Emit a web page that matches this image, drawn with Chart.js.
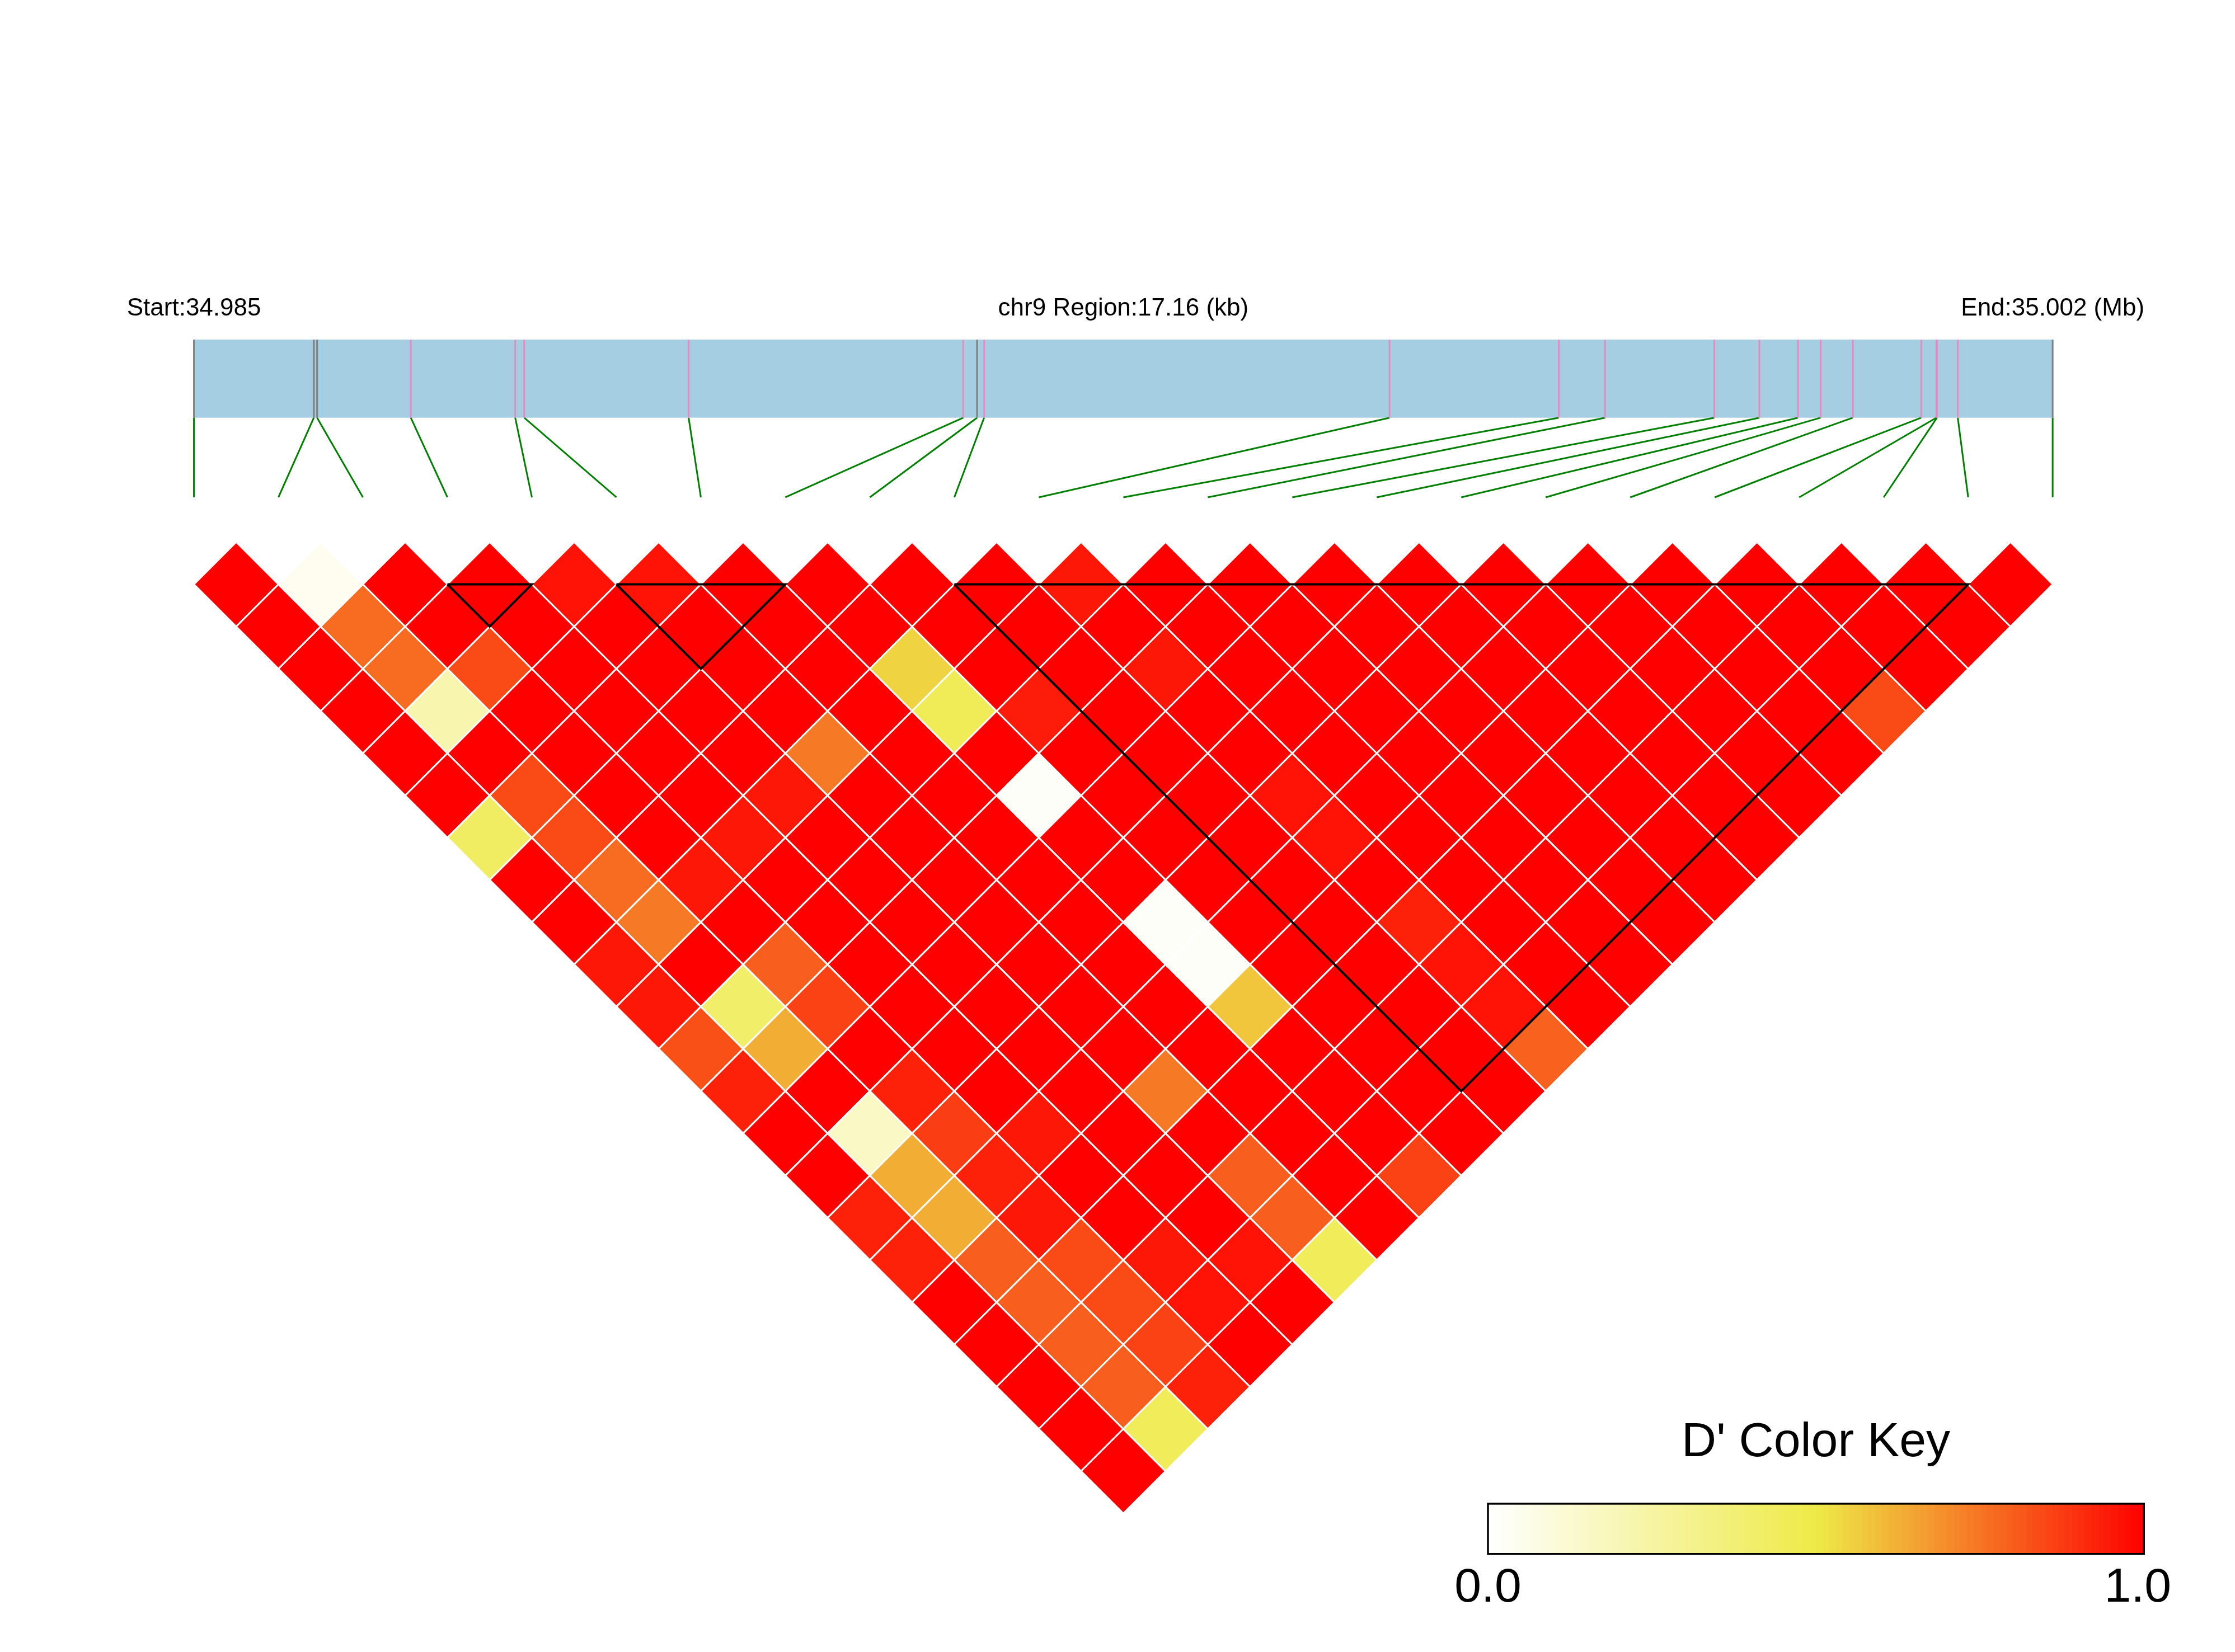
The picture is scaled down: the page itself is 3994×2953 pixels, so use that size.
<!DOCTYPE html>
<html>
<head>
<meta charset="utf-8">
<title>LD block chr9</title>
<script src="https://cdn.jsdelivr.net/npm/chart.js@4.4.1/dist/chart.umd.min.js"></script>
<style>
  html, body { margin: 0; padding: 0; background: #fff; }
  canvas { display: block; }
</style>
</head>
<body>
<canvas id="ld" width="3994" height="2953" style="width:3994px;height:2953px"></canvas>
<script>
// region shown on the gene bar
const chrom = 'chr9'
const startMb = '34.985'
const endMb = '35.002'
const regionKb = 17.16

// SNP positions inside the region (kb from start)
const snpKb = [0, 1.107, 1.137, 2.002, 2.966, 3.049, 4.567, 7.103, 7.230, 7.295, 11.038, 12.600,
  13.028, 14.036, 14.452, 14.808, 15.018, 15.315, 15.947, 16.086, 16.092, 16.284, 17.16]
// SNPs whose mark on the bar is grey instead of pink
const greySnps = [0, 1, 2, 8, 22]

// haplotype blocks (first SNP, last SNP)
const blocks = [[3, 4], [5, 7], [9, 21]]

// D' for SNP i against SNP j = i+1 .. 22
const dprimeRows = [
  [1, 1, 1, 1, 1, 1, 0.43, 1, 1, 0.95, 0.95, 0.83, 0.93, 1, 1, 0.93, 0.93, 1, 1, 1, 1, 1],
  [0.04, 0.77, 0.77, 0.22, 1, 0.84, 0.84, 0.77, 0.74, 1, 0.41, 0.63, 1, 0.16, 0.63, 0.63, 0.8, 0.8, 0.8, 0.8, 0.45],
  [1, 1, 0.84, 1, 1, 1, 1, 0.95, 1, 0.8, 0.86, 1, 0.93, 0.87, 0.93, 0.95, 0.84, 0.84, 0.86, 0.93],
  [1, 1, 1, 1, 1, 1, 0.95, 1, 1, 1, 1, 1, 1, 0.95, 1, 1, 0.95, 0.96, 1],
  [0.96, 1, 1, 1, 1, 0.95, 1, 1, 1, 1, 1, 1, 1, 1, 1, 1, 0.96, 1],
  [0.96, 1, 1, 1, 0.74, 1, 1, 1, 1, 1, 1, 1, 0.74, 1, 0.8, 0.8, 0.45],
  [1, 1, 1, 1, 1, 1, 1, 1, 1, 1, 1, 1, 1, 1, 1, 1],
  [1, 1, 0.55, 0.46, 1, 0.02, 1, 1, 0.02, 0.02, 0.58, 1, 1, 1, 0.86],
  [1, 1, 1, 0.94, 1, 1, 1, 1, 1, 1, 1, 1, 1, 1],
  [1, 1, 1, 1, 1, 1, 1, 1, 1, 1, 1, 1, 1],
  [0.95, 1, 0.95, 1, 1, 0.96, 0.96, 1, 0.93, 0.96, 0.96, 0.79],
  [1, 1, 1, 1, 1, 1, 1, 1, 1, 1, 1],
  [1, 1, 1, 1, 1, 1, 1, 1, 1, 1],
  [1, 1, 1, 1, 1, 1, 1, 1, 1],
  [1, 1, 1, 1, 1, 1, 1, 1],
  [1, 1, 1, 1, 1, 1, 1],
  [1, 1, 1, 1, 1, 1],
  [1, 1, 1, 1, 1],
  [1, 1, 1, 0.84],
  [1, 1, 1],
  [1, 1],
  [1],
]

const keyTitle = "D' Color Key"
const keyLabels = ['0.0', '1.0']

// ---- layout (data units: x = SNP index, y = rows of the triangle) ----
const nSnp = snpKb.length
const BAR_TOP = -4.795
const BAR_BOTTOM = -2.945
const LINK_BOTTOM = -1.06
const LABEL_Y = -5.365
const KEY = { x0: 15.316, x1: 23.08, y0: 22.77, y1: 23.96, titleY: 21.645, labelY: 25.09 }

const FONT = 'Arial, "Liberation Sans", sans-serif'

// white -> yellow -> red, linear in RGB
const colorStops = [[0, [255, 255, 255]], [0.5, [238, 234, 72]], [1, [255, 0, 0]]]
const dColor = (v) => {
  for (let k = 1; k < colorStops.length; k++) {
    const [t1, c1] = colorStops[k]
    const [t0, c0] = colorStops[k - 1]
    if (v <= t1) {
      const f = (v - t0) / (t1 - t0)
      const c = c0.map((a, n) => Math.round(a + (c1[n] - a) * f))
      return `rgb(${c[0]},${c[1]},${c[2]})`
    }
  }
  return 'rgb(255,0,0)'
}

const toIdx = (kb) => kb / regionKb * (nSnp - 1)

// cells of the rotated matrix
const cells = []
dprimeRows.forEach((row, i) => {
  row.forEach((v, k) => {
    const j = i + 1 + k
    cells.push({ x: (i + j) / 2, y: j - i, v })
  })
})

// helper: list of [p, q] segments -> one broken line
const segments = (pairs) => {
  const out = []
  pairs.forEach(([p, q]) => { out.push(p, q, { x: q.x, y: null }) })
  return out
}

const tickPairs = (grey) => snpKb
  .map((kb, k) => ({ kb, k }))
  .filter(s => greySnps.includes(s.k) === grey)
  .map(s => [{ x: toIdx(s.kb), y: BAR_TOP }, { x: toIdx(s.kb), y: BAR_BOTTOM }])

const linkPairs = snpKb.map((kb, k) => [{ x: toIdx(kb), y: BAR_BOTTOM }, { x: k, y: LINK_BOTTOM }])

const blockLines = []
blocks.forEach(([a, b]) => {
  blockLines.push({ x: a, y: 1 }, { x: b, y: 1 }, { x: (a + b) / 2, y: 1 + (b - a) }, { x: a, y: 1 }, { x: a, y: null })
})

const lineSet = (data, color, width, order) => ({
  data, showLine: true, spanGaps: false, borderColor: color, borderWidth: width,
  pointRadius: 0, fill: false, order,
})

const decor = {
  id: 'decor',
  beforeDraw (chart) {
    const c = chart.ctx
    c.save()
    c.fillStyle = '#fff'
    c.fillRect(0, 0, chart.width, chart.height)
    c.restore()
  },
  beforeDatasetsDraw (chart) {
    const { ctx: c, scales: { x, y } } = chart
    c.save()
    c.fillStyle = '#a6cee3'
    const l = x.getPixelForValue(0)
    const r = x.getPixelForValue(nSnp - 1)
    const t = y.getPixelForValue(BAR_TOP)
    const b = y.getPixelForValue(BAR_BOTTOM)
    c.fillRect(l, t, r - l, b - t)
    c.restore()
  },
  afterDatasetsDraw (chart) {
    const { ctx: c, scales: { x, y } } = chart
    c.save()
    c.fillStyle = '#000'
    c.textBaseline = 'alphabetic'
    c.textAlign = 'center'
    c.font = `44px ${FONT}`
    const ly = y.getPixelForValue(LABEL_Y)
    c.fillText(`Start:${startMb}`, x.getPixelForValue(0), ly)
    c.fillText(`${chrom} Region:${regionKb.toFixed(2)} (kb)`, x.getPixelForValue((nSnp - 1) / 2), ly)
    c.fillText(`End:${endMb} (Mb)`, x.getPixelForValue(nSnp - 1), ly)

    // colour key
    const kx0 = x.getPixelForValue(KEY.x0)
    const kx1 = x.getPixelForValue(KEY.x1)
    const ky0 = y.getPixelForValue(KEY.y0)
    const ky1 = y.getPixelForValue(KEY.y1)
    const steps = 100
    const w = (kx1 - kx0) / steps
    for (let s = 0; s < steps; s++) {
      c.fillStyle = dColor((s + 0.5) / steps)
      c.fillRect(kx0 + s * w, ky0, w + 0.6, ky1 - ky0)
    }
    c.strokeStyle = '#000'
    c.lineWidth = 3.5
    c.strokeRect(kx0, ky0, kx1 - kx0, ky1 - ky0)
    c.fillStyle = '#000'
    c.font = `86px ${FONT}`
    c.fillText(keyTitle, (kx0 + kx1) / 2, y.getPixelForValue(KEY.titleY))
    const lab = y.getPixelForValue(KEY.labelY)
    c.fillText(keyLabels[0], kx0, lab)
    c.fillText(keyLabels[1], kx1 - 11, lab)
    c.restore()
  },
}

const cellRadius = (ctx) => {
  const sx = ctx.chart.scales.x
  return Math.abs(sx.getPixelForValue(0.5) - sx.getPixelForValue(0))
}

new Chart(document.getElementById('ld'), {
  type: 'scatter',
  data: {
    datasets: [
      lineSet(blockLines, '#000', 4, 0),
      {
        data: cells,
        pointStyle: 'rectRot',
        pointRadius: cellRadius,
        pointHoverRadius: cellRadius,
        backgroundColor: (ctx) => dColor(ctx.raw ? ctx.raw.v : 1),
        borderColor: '#fff',
        borderWidth: 3,
        order: 1,
      },
      lineSet(segments(tickPairs(false)), '#e78ac3', 3, 2),
      lineSet(segments(tickPairs(true)), '#7f7f7f', 3, 2),
      lineSet(segments(linkPairs), '#008000', 3, 2),
    ],
  },
  options: {
    responsive: false,
    animation: false,
    devicePixelRatio: 1,
    events: [],
    layout: { padding: 0 },
    plugins: { legend: { display: false }, tooltip: { enabled: false } },
    scales: {
      x: { type: 'linear', display: false, bounds: 'data', min: -346.6 / 150.98, max: (3994 - 346.6) / 150.98 },
      y: { type: 'linear', display: false, bounds: 'data', reverse: true, min: -969 / 75.49, max: (2953 - 969) / 75.49 },
    },
  },
  plugins: [decor],
})
</script>
</body>
</html>
